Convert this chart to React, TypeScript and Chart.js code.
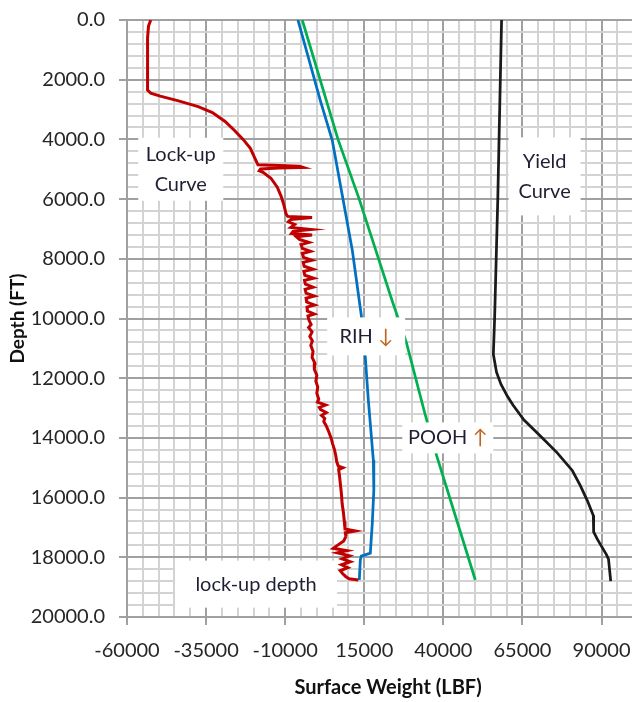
import React, { useEffect, useRef } from "react";
import { Chart, registerables } from "chart.js";

Chart.register(...registerables);

// ---- Data ----
const lockDepth = [
  0, 200, 600, 1200, 1800, 2350, 2450, 2550, 2700, 2900, 3100, 3400, 3700, 4000, 4300, 4600, 4850,
  4900, 4940, 4960, 4990, 5050, 5100, 5300, 5600, 5900, 6200, 6500, 6580, 6620, 6680, 6760, 6850,
  6950, 7020, 7080, 7150, 7200, 7260, 7350, 7450, 7520, 7650, 7750, 7820, 7950, 8050, 8120, 8250,
  8350, 8420, 8550, 8650, 8720, 8850, 8950, 9020, 9150, 9250, 9320, 9450, 9550, 9620, 9750, 9850,
  9920, 10050, 10200, 10300, 10450, 10600, 10750, 10900, 11100, 11300, 11500, 11700, 11900, 12100,
  12300, 12500, 12700, 12800, 12900, 12980, 13050, 13150, 13250, 13350, 13450, 13600, 13800, 14000,
  14200, 14400, 14600, 14800, 14950, 15000, 15060, 15300, 15600, 15900, 16200, 16500, 16800, 17050,
  17120, 17180, 17300, 17450, 17600, 17700, 17780, 17850, 17950, 18050, 18150, 18250, 18350, 18450,
  18550, 18650, 18720, 18760,
];
const lockWeight = [
  -52500, -53200, -53500, -53500, -53500, -53500, -52500, -49500, -44000, -37500, -33000, -29000,
  -26000, -23300, -21000, -19700, -18600, -5500, -4300, -12000, -17800, -18200, -17000, -14500,
  -12500, -11300, -10400, -9700, -9200, -1500, -8200, -9000, -7000, -8200, -1800, -7500, -8000,
  -1500, -6500, -5500, -2500, -5000, -4600, -2000, -4600, -4200, -1500, -4300, -4000, -1200, -4100,
  -3800, -1000, -3900, -3600, -1200, -3700, -3400, -800, -3400, -3200, -700, -3100, -3000, -800,
  -2800, -2500, -1800, -2600, -1500, -2200, -1400, -1900, -1200, -1500, -600, -800, 0, -300, 300,
  0, 600, 200, 2800, 800, 1200, 3000, 1500, 2500, 2200, 3000, 3800, 4500, 5000, 5600, 6000, 6300,
  6800, 8200, 6900, 7200, 7500, 7800, 8000, 8400, 8700, 8900, 12200, 9000, 9200, 8500, 6500, 5200,
  9500, 6500, 10300, 8000, 10600, 7800, 9800, 7400, 8200, 9200, 10200, 13100,
];

const rihDepth = [0, 2690, 4030, 5870, 7710, 9890, 11300, 12730, 14740, 15750, 16850, 17860, 17960, 18090, 18760];
const rihWeight = [-5970, 1090, 4880, 8050, 11210, 14060, 15330, 16280, 17860, 18020, 17540, 16910, 14060, 13750, 13430];

const poohDepth = [0, 4000, 6000, 9400, 10800, 13200, 14600, 18760];
const poohWeight = [-4600, 6700, 13400, 23800, 28300, 34200, 37900, 50100];

const yieldDepth = [0, 2000, 4000, 6000, 8000, 10000, 11200, 11800, 12200, 12600, 12900, 13400, 14000, 14500, 15100, 15600, 16100, 16600, 17150, 17400, 17900, 18060, 18800];
const yieldWeight = [58400, 58000, 57600, 57200, 56700, 56200, 55800, 56800, 58200, 60200, 62000, 65500, 71300, 76000, 80800, 83300, 85500, 87400, 87500, 88700, 91500, 92200, 92900];

// axis ticks
const xMin = -60000;
const xMax = 105000;
const xMinorStep = 5000;
const xMajorStep = 25000;
const yMin = 0;
const yMax = 20000;
const yMinorStep = 400;
const yMajorStep = 2000;

// text labels placed in data space
const labelTexts = [
  { lines: [[{ t: "Lock-up", c: "dark" }], [{ t: "Curve", c: "dark" }]], x: -43000, y: 5000, w: 85, h: 63 },
  { lines: [[{ t: "Yield", c: "dark" }], [{ t: "Curve", c: "dark" }]], x: 72000, y: 5240, w: 72, h: 78 },
  { lines: [[{ t: "RIH ", c: "dark" }, { t: "↓", c: "arrow" }]], x: 15600, y: 10600, w: 78, h: 38 },
  { lines: [[{ t: "POOH ", c: "dark" }, { t: "↑", c: "arrow" }]], x: 41400, y: 14000, w: 91, h: 31 },
  { lines: [[{ t: "lock-up depth", c: "dark" }]], x: -19200, y: 18900, w: 162, h: 47 },
];

const FONT = "Lato, 'Open Sans', sans-serif";
const MAJOR = "#a0a0a0";
const MINOR = "#d3d3d3";
const W = 649;
const H = 702;

function toPoints(depth: number[], weight: number[]) {
  return depth.map((d, i) => ({ x: weight[i], y: d }));
}

const labelPlugin = {
  id: "boxLabels",
  afterDatasetsDraw(chart: any) {
    const { ctx, scales } = chart;
    const xs = scales.x;
    const ys = scales.y;
    ctx.save();
    ctx.font = `20px ${FONT}`;
    ctx.textBaseline = "middle";
    const lh = 30;
    for (const a of labelTexts) {
      const cx = xs.getPixelForValue(a.x);
      const cy = ys.getPixelForValue(a.y);
      ctx.fillStyle = "#ffffff";
      ctx.fillRect(cx - a.w / 2, cy - a.h / 2, a.w, a.h);
      const n = a.lines.length;
      a.lines.forEach((segs: any[], i: number) => {
        const ly = cy + (i - (n - 1) / 2) * lh;
        const total = segs.reduce((s, g) => s + ctx.measureText(g.t).width, 0);
        let lx = cx - total / 2;
        ctx.textAlign = "left";
        for (const g of segs) {
          ctx.fillStyle = g.c === "arrow" ? "#c0651e" : "#1f1f33";
          ctx.fillText(g.t, lx, ly);
          lx += ctx.measureText(g.t).width;
        }
      });
    }
    ctx.restore();
  },
};

export default function App() {
  const ref = useRef<HTMLCanvasElement | null>(null);
  useEffect(() => {
    if (!ref.current) return;
    const isXMajor = (v: number) => Math.abs(((v - xMin) % xMajorStep + xMajorStep) % xMajorStep) < 1e-6;
    const isYMajor = (v: number) => Math.abs(((v - yMin) % yMajorStep + yMajorStep) % yMajorStep) < 1e-6;
    const lineDs = (label: string, pts: any[], color: string, w: number) => ({
      label,
      data: pts,
      borderColor: color,
      backgroundColor: color,
      borderWidth: w,
      showLine: true,
      pointRadius: 0,
      tension: 0,
    });
    const chart = new Chart(ref.current, {
      type: "scatter",
      data: {
        datasets: [
          lineDs("Lock-up", toPoints(lockDepth, lockWeight), "#c00000", 3),
          lineDs("RIH", toPoints(rihDepth, rihWeight), "#0070c0", 2.75),
          lineDs("POOH", toPoints(poohDepth, poohWeight), "#00b050", 2.75),
          lineDs("Yield", toPoints(yieldDepth, yieldWeight), "#1a1a1a", 2.75),
        ],
      },
      options: {
        animation: false,
        responsive: false,
        maintainAspectRatio: false,
        devicePixelRatio: 1,
        layout: { padding: { top: 20, right: 0, left: 0, bottom: 0 } },
        plugins: { legend: { display: false }, tooltip: { enabled: false } },
        scales: {
          x: {
            type: "linear",
            min: xMin,
            max: xMax,
            afterFit: (s: any) => { s.height = 85; s.paddingLeft = 0; s.paddingRight = 0; },
            ticks: {
              stepSize: xMinorStep,
              autoSkip: false,
              maxRotation: 0,
              padding: 14,
              color: "#262626",
              font: { family: FONT, size: 20 },
              callback: (v: any) => (isXMajor(Number(v)) ? String(v) : ""),
            },
            grid: {
              color: (c: any) => (isXMajor(c.tick?.value) ? MAJOR : MINOR),
              lineWidth: 2,
              tickLength: 8,
              tickColor: (c: any) => (isXMajor(c.tick?.value) ? MAJOR : "rgba(0,0,0,0)"),
            },
            border: { color: MAJOR, width: 2 },
            title: {
              display: true,
              text: "Surface Weight (LBF)",
              color: "#111",
              font: { family: FONT, size: 20, weight: "bold" },
              padding: { top: 0, bottom: 2 },
            },
          },
          y: {
            type: "linear",
            reverse: true,
            min: yMin,
            max: yMax,
            afterFit: (s: any) => { s.width = 127; s.paddingTop = 0; s.paddingBottom = 0; },
            ticks: {
              stepSize: yMinorStep,
              autoSkip: false,
              padding: 14,
              color: "#262626",
              font: { family: FONT, size: 20 },
              callback: (v: any) => (isYMajor(Number(v)) ? Number(v).toFixed(1) : ""),
            },
            grid: {
              color: (c: any) => (isYMajor(c.tick?.value) ? MAJOR : MINOR),
              lineWidth: 2,
              tickLength: 8,
              tickColor: (c: any) => (isYMajor(c.tick?.value) ? MAJOR : "rgba(0,0,0,0)"),
            },
            border: { color: MAJOR, width: 2 },
            title: {
              display: true,
              text: "Depth (FT)",
              color: "#111",
              font: { family: FONT, size: 19, weight: "bold" },
              padding: { top: 6, bottom: 0 },
            },
          },
        },
      },
      plugins: [labelPlugin],
    } as any);
    return () => chart.destroy();
  }, []);
  return (
    <div style={{ position: "fixed", left: 0, top: 0, width: 632, height: H, overflow: "hidden", background: "#fff" }}>
      <div style={{ position: "relative", width: W, height: H }}>
        <canvas ref={ref} width={W} height={H} style={{ display: "block", width: W, height: H }} />
      </div>
    </div>
  );
}
